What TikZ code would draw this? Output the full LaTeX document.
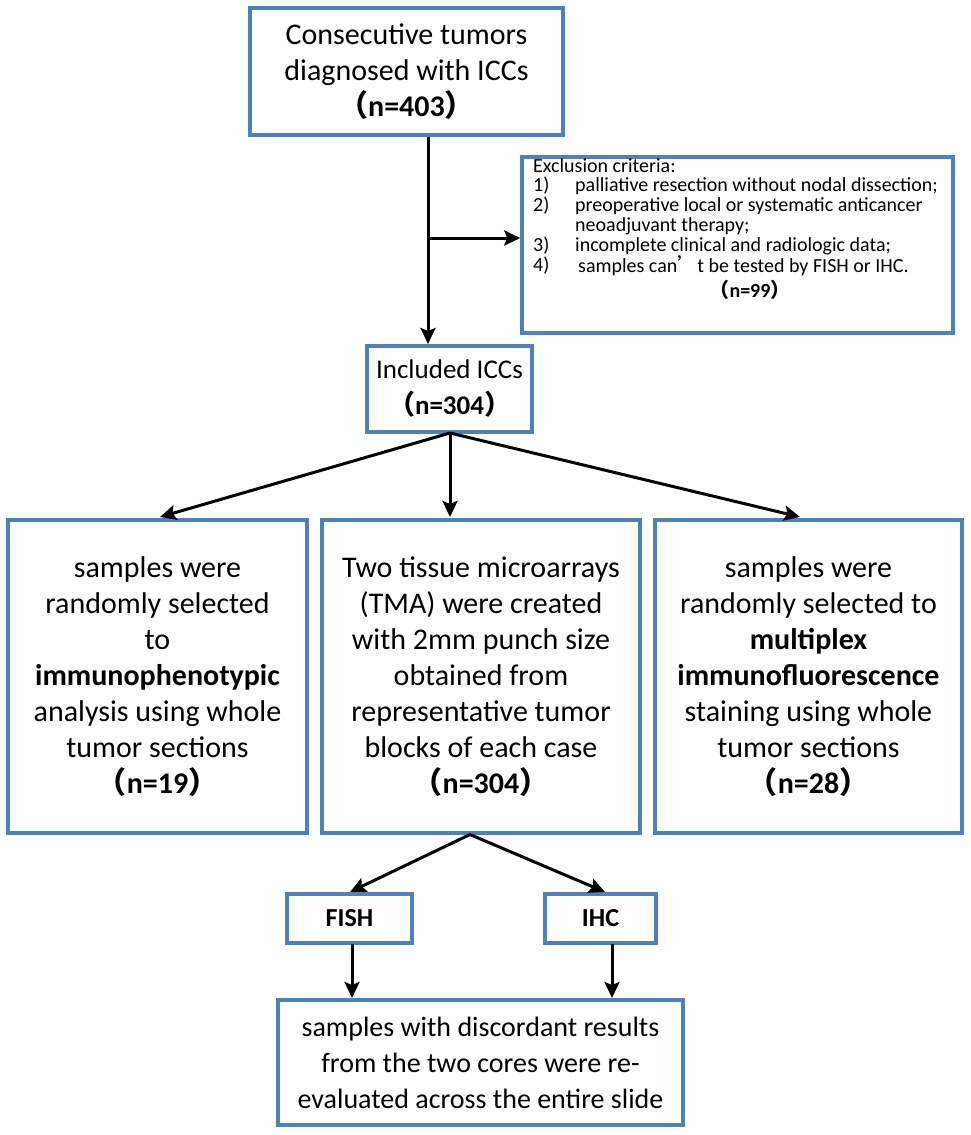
\documentclass[tikz,border=0pt]{standalone}
\usepackage{fontspec}
\setmainfont{Carlito}
\newfontfamily\cjk{Noto Sans CJK SC}
\usetikzlibrary{arrows.meta}
\newcommand{\lp}{{\cjk （}}
\newcommand{\rp}{{\cjk ）}}
\begin{document}
\begin{tikzpicture}[x=1pt,y=-1pt,
 box/.style={draw=boxblue,line width=3.5pt,fill=white,inner sep=0pt,align=center,font=\fontsize{30}{36}\selectfont},
 arr/.style={line width=3pt,-{Stealth[length=16pt,width=15pt,inset=3pt]}},
 ex/.style={anchor=west,inner sep=0pt,font=\fontsize{20}{20}\selectfont}]
\definecolor{boxblue}{RGB}{79,129,189}
\useasboundingbox (0,0) rectangle (970,1135);
\node[box,minimum width=313,minimum height=127] (top) at (406.5,71.5) {Consecutive tumors\\diagnosed with ICCs\\\textbf{\lp n=403\rp}};
\node[box,minimum width=431,minimum height=176] (exc) at (737.5,245) {};
\node[ex] (e0) at (533,166) {Exclusion criteria:};
\node[ex] (e1) at (533,186) {1)};
\node[ex] (e1t) at (575,186) {palliative resection without nodal dissection;};
\node[ex] (e2) at (533,206) {2)};
\node[ex] (e2t) at (575,206) {preoperative local or systematic anticancer};
\node[ex] (e2u) at (575,226) {neoadjuvant therapy;};
\node[ex] (e3) at (533,246) {3)};
\node[ex] (e3t) at (575,246) {incomplete clinical and radiologic data;};
\node[ex] (e4) at (533,266) {4)};
\node[ex] (e4t) at (578,266) {samples can{\cjk ’}t be tested by FISH or IHC.};
\node[ex,anchor=center] (e5) at (750,290) {\textbf{\lp n=99\rp}};
\node[box,minimum width=165,minimum height=86,font=\fontsize{27}{36}\selectfont] (inc) at (449.5,389) {Included ICCs\\\textbf{\lp n=304\rp}};
\node[box,minimum width=299,minimum height=313] (left) at (157.5,676.5) {samples were\\randomly selected\\to\\\textbf{immunophenotypic}\\analysis using whole\\tumor sections\\\textbf{\lp n=19\rp}};
\node[box,minimum width=318,minimum height=313] (mid) at (481,676.5) {Two tissue microarrays\\(TMA) were created\\with 2mm punch size\\obtained from\\representative tumor\\blocks of each case\\\textbf{\lp n=304\rp}};
\node[box,minimum width=307,minimum height=313] (right) at (808.5,676.5) {samples were\\randomly selected to\\\textbf{multiplex}\\\textbf{immunofluorescence}\\staining using whole\\tumor sections\\\textbf{\lp n=28\rp}};
\node[box,minimum width=125,minimum height=49,font=\fontsize{26}{30}\selectfont] (fish) at (349.5,918.5) {\textbf{FISH}};
\node[box,minimum width=111,minimum height=49,font=\fontsize{26}{30}\selectfont] (ihc) at (600.5,918.5) {\textbf{IHC}};
\node[box,minimum width=405,minimum height=125,font=\fontsize{28}{36}\selectfont] (bot) at (480.5,1062.5) {samples with discordant results\\from the two cores were re-\\evaluated across the entire slide};
\coordinate (j) at (428,238);
\draw[arr] (428,136.5) -- (428,344);
\draw[arr] (j) -- (j -| exc.west);
\coordinate (s) at (450,433);
\draw[arr] (s) -- (160,517);
\draw[arr] (s) -- (450,517);
\draw[arr] (s) -- (800,517);
\coordinate (m) at (470,834.5);
\draw[arr] (m) -- (350,892);
\draw[arr] (m) -- (605,892);
\draw[arr] (352,944) -- (352,998);
\draw[arr] (612,944) -- (612,998);
\end{tikzpicture}
\end{document}
